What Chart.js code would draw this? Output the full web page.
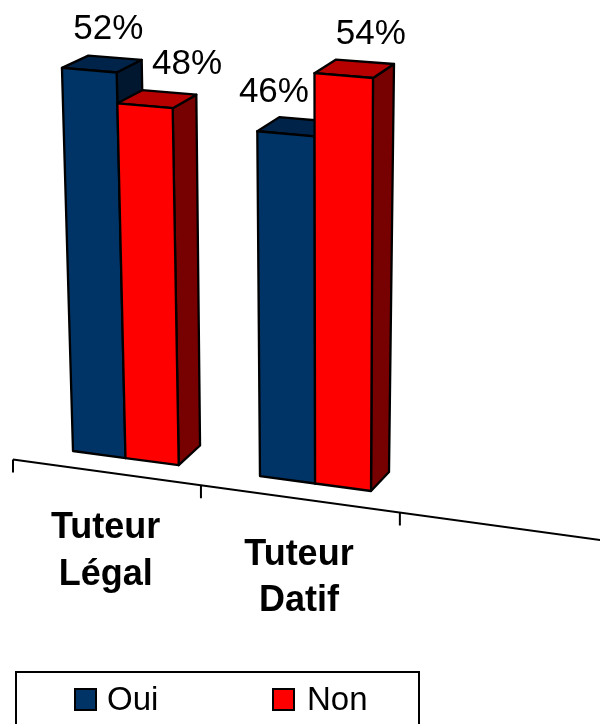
<!DOCTYPE html>
<html>
<head>
<meta charset="utf-8">
<style>html,body{margin:0;padding:0;background:#fff;overflow:hidden}#w{width:600px;height:724px}canvas{display:block}</style>
<script src="https://cdn.jsdelivr.net/npm/chart.js@4/dist/chart.umd.js"></script>
</head>
<body>
<div id="w"><canvas id="c" width="600" height="724"></canvas></div>
<script>
const categories = [["Tuteur", "Légal"], ["Tuteur", "Datif"], ""];
const seriesNames = ["Oui", "Non"];
const oui = [52, 46, null];
const non = [48, 54, null];
const colours = ["#003366", "#FF0000"];

// Camera: where the flat plot's corners land on screen (x,y) for the front and back planes of the bars.
const U0 = 0.2143, U1 = 1.7857, VTOP = 54;
const frontQuad = [[73,451],[371,491],[373,78],[61.5,52.5]];
const backQuad  = [[97,431],[389,472],[394,64],[88,40.5]];
const AXIS = {c:-0.0276, a:182.4, b:13, y0:459.5, slope:0.137, tick:13};
const LABEL_SHIFT = [[19,-12],[42,27]];
const FONT = "'Liberation Sans', Arial, sans-serif";

function quadMap(q){
  const [[x0,y0],[x1,y1],[x2,y2],[x3,y3]] = q;
  const dx1=x1-x2,dx2=x3-x2,sx=x0-x1+x2-x3,dy1=y1-y2,dy2=y3-y2,sy=y0-y1+y2-y3;
  const den=dx1*dy2-dx2*dy1;
  const g=(sx*dy2-dx2*sy)/den,h=(dx1*sy-sx*dy1)/den;
  const a=x1-x0+g*x1,b=x3-x0+h*x3,d=y1-y0+g*y1,e=y3-y0+h*y3;
  return (s,t)=>{const w=g*s+h*t+1;return [(a*s+b*t+x0)/w,(d*s+e*t+y0)/w];};
}
const front = quadMap(frontQuad), back = quadMap(backQuad);
let chart;
function toSt(px,py){
  const ca=chart.chartArea,cw=ca.width/categories.length;
  const u=(px-ca.left)/cw, v=chart.scales.y.getValueForPixel(py);
  return [(u-U0)/(U1-U0), v/VTOP];
}
function shade(hex,f){
  const n=parseInt(hex.slice(1),16);
  return `rgb(${((n>>16)&255)*f|0},${((n>>8)&255)*f|0},${(n&255)*f|0})`;
}
function poly(ctx,pts,fill){
  ctx.beginPath();
  pts.forEach((p,i)=>i?ctx.lineTo(p[0],p[1]):ctx.moveTo(p[0],p[1]));
  ctx.closePath();
  ctx.fillStyle=fill;ctx.fill();ctx.stroke();
}
Chart.elements.BarElement.prototype.draw=function(ctx){
  const {x,y,base,width}=this.getProps(['x','y','base','width'],true);
  const col=this.options.backgroundColor;
  const L=toSt(x-width/2,y),R=toSt(x+width/2,base);
  const fTL=front(L[0],L[1]),fTR=front(R[0],L[1]),fBR=front(R[0],R[1]),fBL=front(L[0],R[1]);
  const bTL=back(L[0],L[1]),bTR=back(R[0],L[1]),bBR=back(R[0],R[1]);
  ctx.save();
  ctx.strokeStyle='#000';ctx.lineWidth=2.3;ctx.lineJoin='round';
  poly(ctx,[fTR,bTR,bBR,fBR],shade(col,0.47));
  poly(ctx,[fTL,bTL,bTR,fTR],shade(col,0.72));
  poly(ctx,[fTL,fTR,fBR,fBL],col);
  ctx.restore();
};
function axisPt(u){
  const x=(AXIS.a*u+AXIS.b)/(AXIS.c*u+1);
  return [x,AXIS.y0+AXIS.slope*(x-AXIS.b)];
}
const decor={
  id:'decor',
  beforeInit(c){chart=c;},
  beforeDatasetDraw(){return false;},
  afterDatasetsDraw(c){
    const ctx=c.ctx;
    // painter's order: first series at the back
    c.data.datasets.forEach((ds,di)=>{
      c.getDatasetMeta(di).data.forEach((el,i)=>{ if(ds.data[i]!=null) el.draw(ctx); });
    });
    ctx.save();
    // value labels
    ctx.fillStyle='#000';ctx.font=`35px ${FONT}`;ctx.textAlign='center';ctx.textBaseline='middle';
    c.data.datasets.forEach((ds,di)=>{
      c.getDatasetMeta(di).data.forEach((el,i)=>{
        if(ds.data[i]==null)return;
        const L=toSt(el.x-el.width/2,el.y),R=toSt(el.x+el.width/2,el.y);
        const a=front(L[0],L[1]),b=front(R[0],R[1]);
        ctx.fillText(ds.data[i]+'%',(a[0]+b[0])/2+LABEL_SHIFT[di][i],(a[1]+b[1])/2-41);
      });
    });
    // category axis
    ctx.strokeStyle='#000';ctx.lineWidth=2;
    const n=categories.length;
    ctx.beginPath();
    let p=axisPt(0);ctx.moveTo(p[0],p[1]);
    p=axisPt(n);ctx.lineTo(p[0],p[1]);
    for(let i=0;i<n;i++){
      p=axisPt(i);ctx.moveTo(p[0],p[1]);ctx.lineTo(p[0],p[1]+AXIS.tick);
    }
    ctx.stroke();
    ctx.font=`bold 36px ${FONT}`;
    c.scales.x.getLabels().forEach((lab,i)=>{
      if(!lab)return;
      const m=axisPt(i+0.5);
      [].concat(lab).forEach((t,k)=>ctx.fillText(t,m[0],m[1]+56+k*46.5));
    });
    // legend
    ctx.lineWidth=2;
    ctx.strokeRect(16,672,403,70);
    ctx.font=`33px ${FONT}`;ctx.textAlign='left';
    const sw=[75,273], tx=[107,307];
    c.data.datasets.forEach((ds,i)=>{
      ctx.fillStyle=ds.backgroundColor;
      ctx.fillRect(sw[i],689,21,21);ctx.strokeRect(sw[i],689,21,21);
      ctx.fillStyle='#000';
      ctx.fillText(ds.label,tx[i],701);
    });
    ctx.restore();
  }
};
new Chart(document.getElementById('c'),{
  type:'bar',
  data:{labels:categories,datasets:[
    {label:seriesNames[0],data:oui,backgroundColor:colours[0],clip:false},
    {label:seriesNames[1],data:non,backgroundColor:colours[1],clip:false}
  ]},
  options:{
    responsive:false,animation:false,
    categoryPercentage:0.5714,barPercentage:1,
    layout:{padding:0},
    plugins:{legend:{display:false},tooltip:{enabled:false},title:{display:false}},
    scales:{x:{display:false},y:{display:false,min:0,max:60}}
  },
  plugins:[decor]
});
</script>
</body>
</html>
